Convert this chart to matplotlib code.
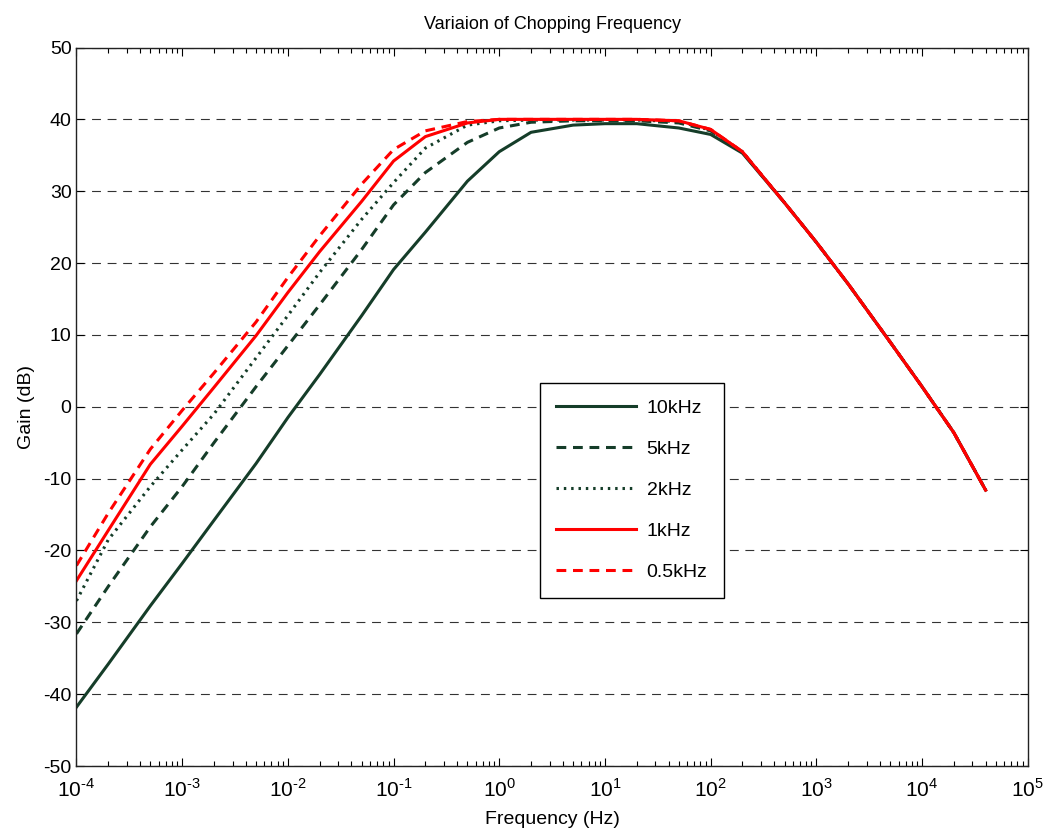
import matplotlib
matplotlib.use("Agg")
import numpy as np
import matplotlib.pyplot as plt
from matplotlib.ticker import LogLocator, FixedLocator, NullFormatter, FuncFormatter

# ---- data ----
freq = [1e-4, 2e-4, 5e-4, 1e-3, 2e-3, 5e-3, 1e-2, 2e-2, 5e-2, 1e-1, 2e-1, 5e-1,
        1e0, 2e0, 5e0, 1e1, 2e1, 5e1, 1e2, 2e2, 5e2, 1e3, 2e3, 5e3, 1e4, 2e4, 4e4]

gain_10k = [-41.8, -35.8, -27.7, -21.8, -15.8, -7.9, -1.5, 4.5, 12.7, 19.1, 24.3, 31.4,
            35.5, 38.2, 39.2, 39.4, 39.4, 38.8, 37.9, 35.3, 28.4, 22.9, 17.1, 9.0, 2.8, -3.6, -11.6]
gain_5k = [-31.6, -25.0, -16.7, -11.1, -5.0, 2.8, 8.5, 14.2, 21.9, 28.1, 32.6, 36.8,
           38.8, 39.6, 39.8, 39.8, 39.8, 39.5, 38.4, 35.4, 28.4, 22.9, 17.1, 9.0, 2.8, -3.6, -11.6]
gain_2k = [-27.0, -18.5, -11.1, -6.0, -1.0, 6.8, 12.7, 18.7, 26.1, 31.2, 36.0, 39.2,
           39.8, 39.9, 39.9, 39.9, 39.9, 39.7, 38.5, 35.5, 28.4, 22.9, 17.1, 9.0, 2.8, -3.6, -11.6]
gain_1k = [-24.2, -17.2, -8.0, -2.7, 2.7, 9.9, 15.9, 21.6, 28.6, 34.2, 37.6, 39.5,
           40.0, 40.0, 40.0, 40.0, 40.0, 39.8, 38.6, 35.5, 28.4, 22.9, 17.1, 9.0, 2.8, -3.6, -11.6]
gain_05k = [-22.1, -14.8, -5.9, -0.5, 4.7, 11.8, 18.0, 23.8, 31.0, 35.8, 38.4, 39.7,
            40.0, 40.0, 40.0, 40.0, 40.0, 39.8, 38.6, 35.5, 28.4, 22.9, 17.1, 9.0, 2.8, -3.6, -11.6]

labels = ["10kHz", "5kHz", "2kHz", "1kHz", "0.5kHz"]
y_ticks = [-50, -40, -30, -20, -10, 0, 10, 20, 30, 40, 50]

# ---- style ----
plt.rcParams['font.family'] = ['Liberation Sans', 'DejaVu Sans']
plt.rcParams['mathtext.fontset'] = 'custom'
plt.rcParams['mathtext.rm'] = 'Liberation Sans'
plt.rcParams['axes.unicode_minus'] = False

dark = '#153d29'
red = '#ff0000'

fig = plt.figure(figsize=(10.52, 8.35), dpi=100)
ax = fig.add_axes([0.0727, 0.0826, 0.9042, 0.8605])

lw = 2.2
ax.plot(freq, gain_10k, color=dark, lw=lw, ls='-', label=labels[0])
ax.plot(freq, gain_5k, color=dark, lw=lw, ls=(0, (3.2, 2.2)), label=labels[1])
ax.plot(freq, gain_2k, color=dark, lw=lw, ls=(0, (0.8, 1.6)), label=labels[2])
ax.plot(freq, gain_1k, color=red, lw=lw, ls='-', label=labels[3])
ax.plot(freq, gain_05k, color=red, lw=lw, ls=(0, (3.2, 2.2)), label=labels[4])

ax.set_xscale('log')
ax.set_xlim(1e-4, 1e5)
ax.set_ylim(-50, 50)
ax.yaxis.set_major_locator(FixedLocator(y_ticks))
ax.xaxis.set_major_locator(LogLocator(base=10, numticks=20))
ax.xaxis.set_minor_locator(LogLocator(base=10, subs=range(2, 10), numticks=100))
ax.xaxis.set_minor_formatter(NullFormatter())


def fmt(v, pos):
    n = int(round(np.log10(v)))
    e = r"\text{-}" + str(-n) if n < 0 else str(n)
    return r"$10^{" + e + "}$"


ax.xaxis.set_major_formatter(FuncFormatter(fmt))

ax.grid(axis='y', which='major', color='#333333', lw=0.8, ls=(0, (8, 6)))
ax.set_axisbelow(True)

ax.tick_params(which='both', direction='in', top=True, right=True, labelsize=14)
ax.tick_params(which='major', length=6, width=0.8)
ax.tick_params(which='minor', length=3.5, width=0.8)
ax.tick_params(axis='x', which='major', pad=9, labelsize=15)
for s in ax.spines.values():
    s.set_linewidth(1.0)
    s.set_color('#222222')

ax.set_title("Variaion of Chopping Frequency", fontsize=13, pad=13)
ax.set_xlabel("Frequency (Hz)", fontsize=14, labelpad=7)
ax.set_ylabel("Gain (dB)", fontsize=14, labelpad=6)

leg = ax.legend(loc='upper left', bbox_to_anchor=(0.487, 0.533), fontsize=14,
                frameon=True, fancybox=False, framealpha=1, edgecolor='black',
                handlelength=4.1, handletextpad=0.55, labelspacing=1.2,
                borderpad=0.85, borderaxespad=0)
leg.get_frame().set_linewidth(1.0)

fig.savefig("out.png", dpi=100)
